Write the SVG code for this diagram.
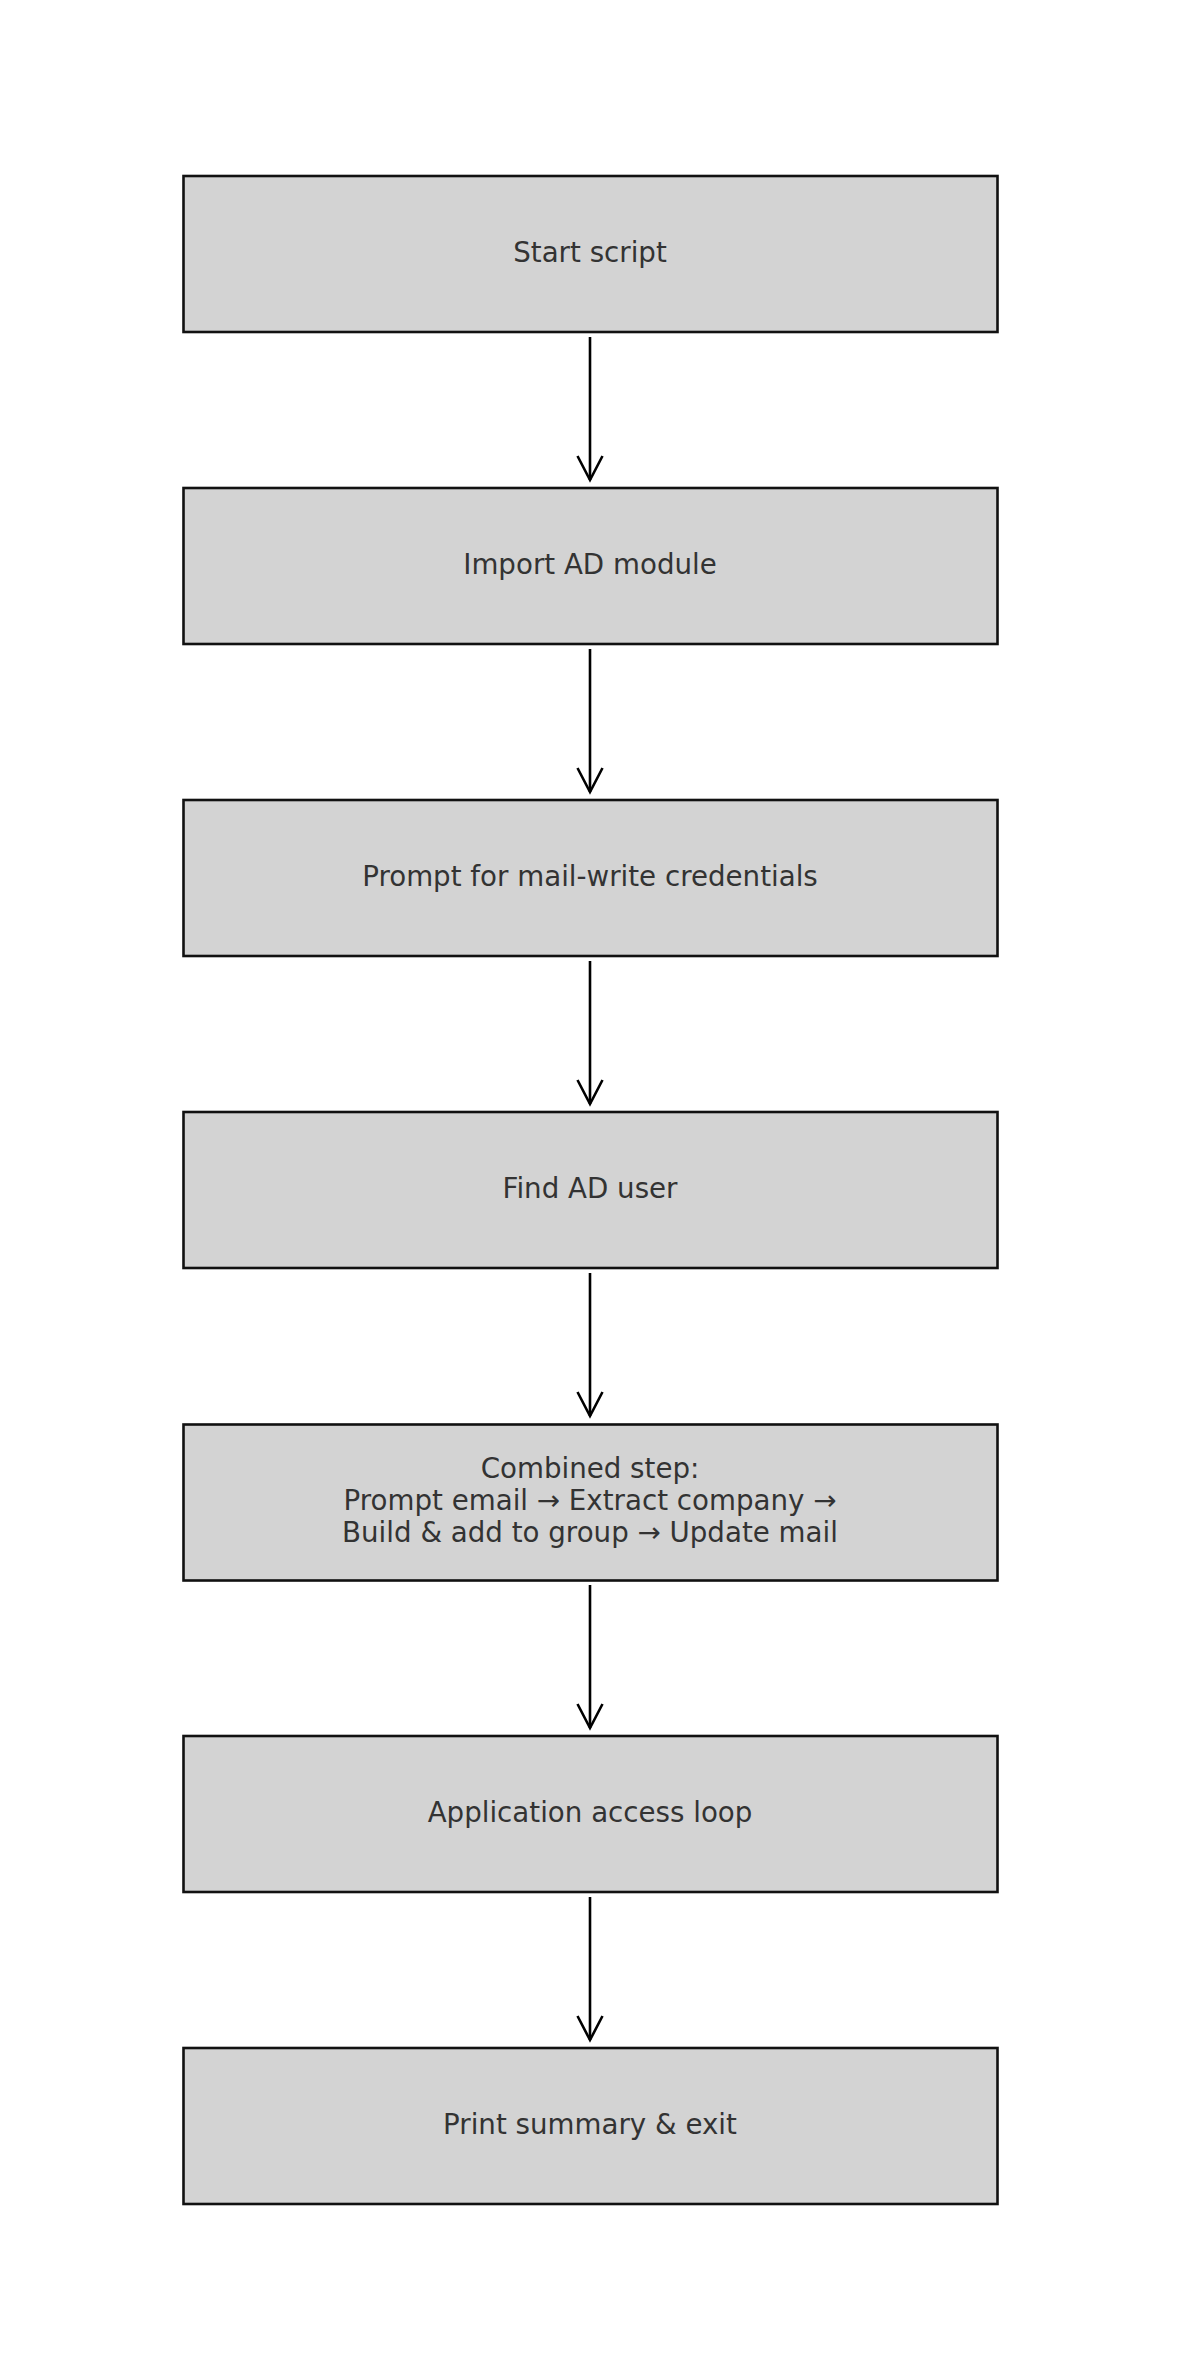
<svg xmlns="http://www.w3.org/2000/svg" width="1180" height="2380" viewBox="0 0 1180 2380">
<style>
.box{fill:#d3d3d3;stroke:#111;stroke-width:2.6}
.lbl{font-family:"DejaVu Sans",sans-serif;font-size:27.7px;fill:#333;text-anchor:middle}
.edge{stroke:#000;stroke-width:2.6;fill:none}
</style>
<defs>
<marker id="arr" markerUnits="userSpaceOnUse" viewBox="-14 -26 28 30" markerWidth="28" markerHeight="30" refX="0" refY="0" orient="auto-start-reverse" overflow="visible">
<path d="M-12.5,-24 L0,0 L12.5,-24" fill="none" stroke="#000" stroke-width="2.6" transform="rotate(-90)"/>
</marker>
</defs>
<rect width="1180" height="2380" fill="#fff"/>
<g id="connectors">
<line class="edge" x1="590" y1="337" x2="590" y2="480" marker-end="url(#arr)"/>
<line class="edge" x1="590" y1="649" x2="590" y2="792" marker-end="url(#arr)"/>
<line class="edge" x1="590" y1="961" x2="590" y2="1104" marker-end="url(#arr)"/>
<line class="edge" x1="590" y1="1273" x2="590" y2="1416" marker-end="url(#arr)"/>
<line class="edge" x1="590" y1="1585" x2="590" y2="1728" marker-end="url(#arr)"/>
<line class="edge" x1="590" y1="1897" x2="590" y2="2040" marker-end="url(#arr)"/>
</g>
<g id="n1"><rect class="box" x="183.5" y="176" width="814" height="156"/><text class="lbl" x="590" y="262.3">Start script</text></g>
<g id="n2"><rect class="box" x="183.5" y="488" width="814" height="156"/><text class="lbl" x="590" y="574.3">Import AD module</text></g>
<g id="n3"><rect class="box" x="183.5" y="800" width="814" height="156"/><text class="lbl" x="590" y="886.3">Prompt for mail-write credentials</text></g>
<g id="n4"><rect class="box" x="183.5" y="1112" width="814" height="156"/><text class="lbl" x="590" y="1198.3">Find AD user</text></g>
<g id="n5"><rect class="box" x="183.5" y="1424.5" width="814" height="156"/><text class="lbl" x="590" y="1477.5">Combined step:</text><text class="lbl" x="590" y="1509.5">Prompt email → Extract company →</text><text class="lbl" x="590" y="1541.5">Build &amp; add to group → Update mail</text></g>
<g id="n6"><rect class="box" x="183.5" y="1736" width="814" height="156"/><text class="lbl" x="590" y="1822.3">Application access loop</text></g>
<g id="n7"><rect class="box" x="183.5" y="2048" width="814" height="156"/><text class="lbl" x="590" y="2134.3">Print summary &amp; exit</text></g>
</svg>
